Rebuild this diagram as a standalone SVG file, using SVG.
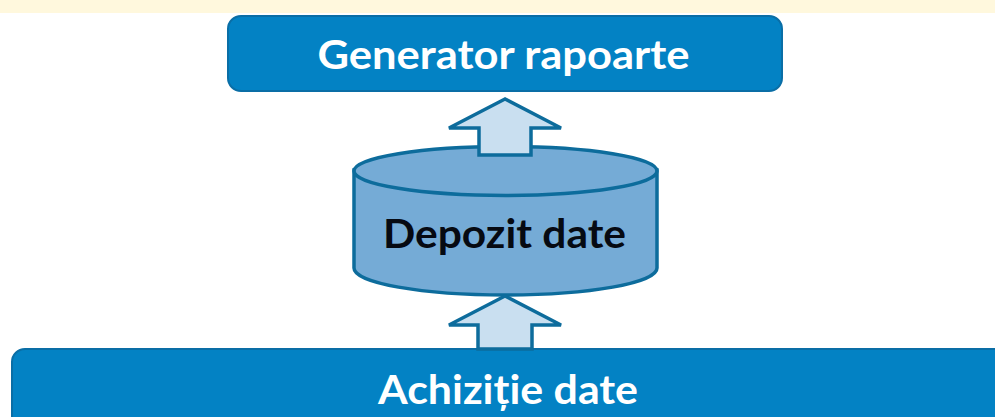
<svg xmlns="http://www.w3.org/2000/svg" width="995" height="417" viewBox="0 0 995 417">
<style>
.box{fill:#0382c4;stroke:#0a6ea6;stroke-width:2}
.arrow{fill:#c9dff0;stroke:#0d6c9c;stroke-width:3.500;stroke-linejoin:miter}
.cyl{fill:#75abd6;stroke:#0d6c9c;stroke-width:3.500}
text{font-family:"Lato","Liberation Sans",sans-serif;font-weight:700;text-anchor:middle;font-size:41px}
.w{fill:#fff}
.k{fill:#060a12}
</style>
<rect x="0" y="0" width="995" height="417" fill="#fff"/>
<rect x="0" y="0" width="995" height="13" fill="#fff8dd"/>
<g id="generator-rapoarte">
<rect class="box" x="228" y="16" width="554" height="75" rx="13"/>
<text class="w" x="503.500" y="69" textLength="372" lengthAdjust="spacingAndGlyphs">Generator rapoarte</text>
</g>
<g id="depozit-date">
<path class="cyl" d="M354 170V268C354 283 422 295 505.500 295S657 283 657 268V170Z"/>
<ellipse class="cyl" cx="505.500" cy="171" rx="151.500" ry="24.500"/>
<text class="k" x="504.500" y="248" textLength="243" lengthAdjust="spacingAndGlyphs">Depozit date</text>
</g>
<g id="achizitie-date">
<rect class="box" x="12" y="349" width="1000" height="90" rx="13"/>
<text class="w" x="508" y="404" textLength="260" lengthAdjust="spacingAndGlyphs">Achiziție date</text>
</g>
<g id="connectors">
<path class="arrow" d="M505 99L449 128H479V155H531V128H561Z"/>
<path class="arrow" d="M505 296L449 325H478V349H532V325H561Z"/>
</g>
</svg>
